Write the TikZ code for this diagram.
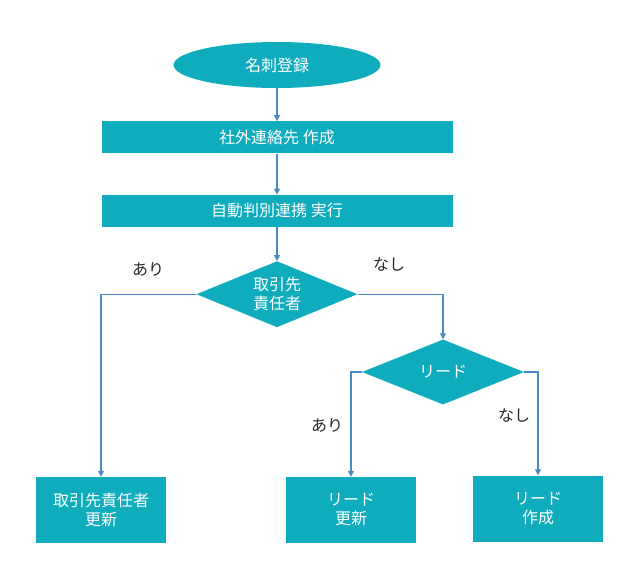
\documentclass[tikz,border=0pt]{standalone}
\usepackage{fontspec}
\newfontfamily\jpfont{Noto Sans CJK JP}
\usetikzlibrary{positioning,arrows.meta,shapes.geometric}
\definecolor{flowteal}{HTML}{0FACBD}
\definecolor{flowblue}{HTML}{4A89C8}
\definecolor{labelgray}{HTML}{262626}

\begin{document}
\begin{tikzpicture}[x=1pt, y=-1pt,
  start/.style={ellipse, fill=flowteal, text=white, minimum width=207pt, minimum height=46pt,
    inner sep=0pt, font=\jpfont\fontsize{16}{19}\selectfont},
  process/.style={rectangle, fill=flowteal, text=white, minimum width=351pt, minimum height=32pt,
    inner sep=0pt, font=\jpfont\fontsize{16}{19}\selectfont},
  decision/.style={diamond, aspect=2.4, fill=flowteal, text=white, minimum width=161pt, minimum height=66pt,
    inner sep=0pt, align=center, font=\jpfont\fontsize{16}{19}\selectfont},
  result/.style={rectangle, fill=flowteal, text=white, minimum width=130pt, minimum height=66pt,
    inner sep=0pt, align=center, font=\jpfont\fontsize{16}{19}\selectfont},
  branch/.style={text=labelgray, inner sep=0pt, font=\jpfont\fontsize{16}{19}\selectfont},
  arrow/.style={-{Triangle[length=6pt,width=6pt]}, line width=1.2pt, draw=flowblue}]

  \useasboundingbox (0,0) rectangle (619,570);

  \node[start] (meishi) at (277,65) {名刺登録};
  \node[process, below=33pt of meishi] (shagai) {社外連絡先 作成};
  \node[process, below=41pt of shagai] (jidou) {自動判別連携 実行};
  \node[decision, below=34pt of jidou] (tantou) {取引先\\責任者};
  \node[decision, minimum width=162pt, minimum height=65pt] (lead) at (443,372) {リード};

  \node[result] (tantoukoushin) at (101,510) {取引先責任者\\更新};
  \node[result] (leadkoushin) at (351,510) {リード\\更新};
  \node[result] (leadsakusei) at (538,508.5) {リード\\作成};

  \node[branch] (ari1) at (148,270) {あり};
  \node[branch] (nashi1) at (389,264) {なし};
  \node[branch] (ari2) at (327,426) {あり};
  \node[branch] (nashi2) at (514,415) {なし};

  \draw[arrow] (meishi) -- (shagai);
  \draw[arrow] (shagai) -- (jidou);
  \draw[arrow] (jidou) -- (tantou);
  \draw[arrow] (tantou.west) -| (tantoukoushin.north);
  \draw[arrow] (tantou.east) -| (lead.north);
  \draw[arrow] (lead.west) -| (leadkoushin.north);
  \draw[arrow] (lead.east) -| (leadsakusei.north);
\end{tikzpicture}
\end{document}
